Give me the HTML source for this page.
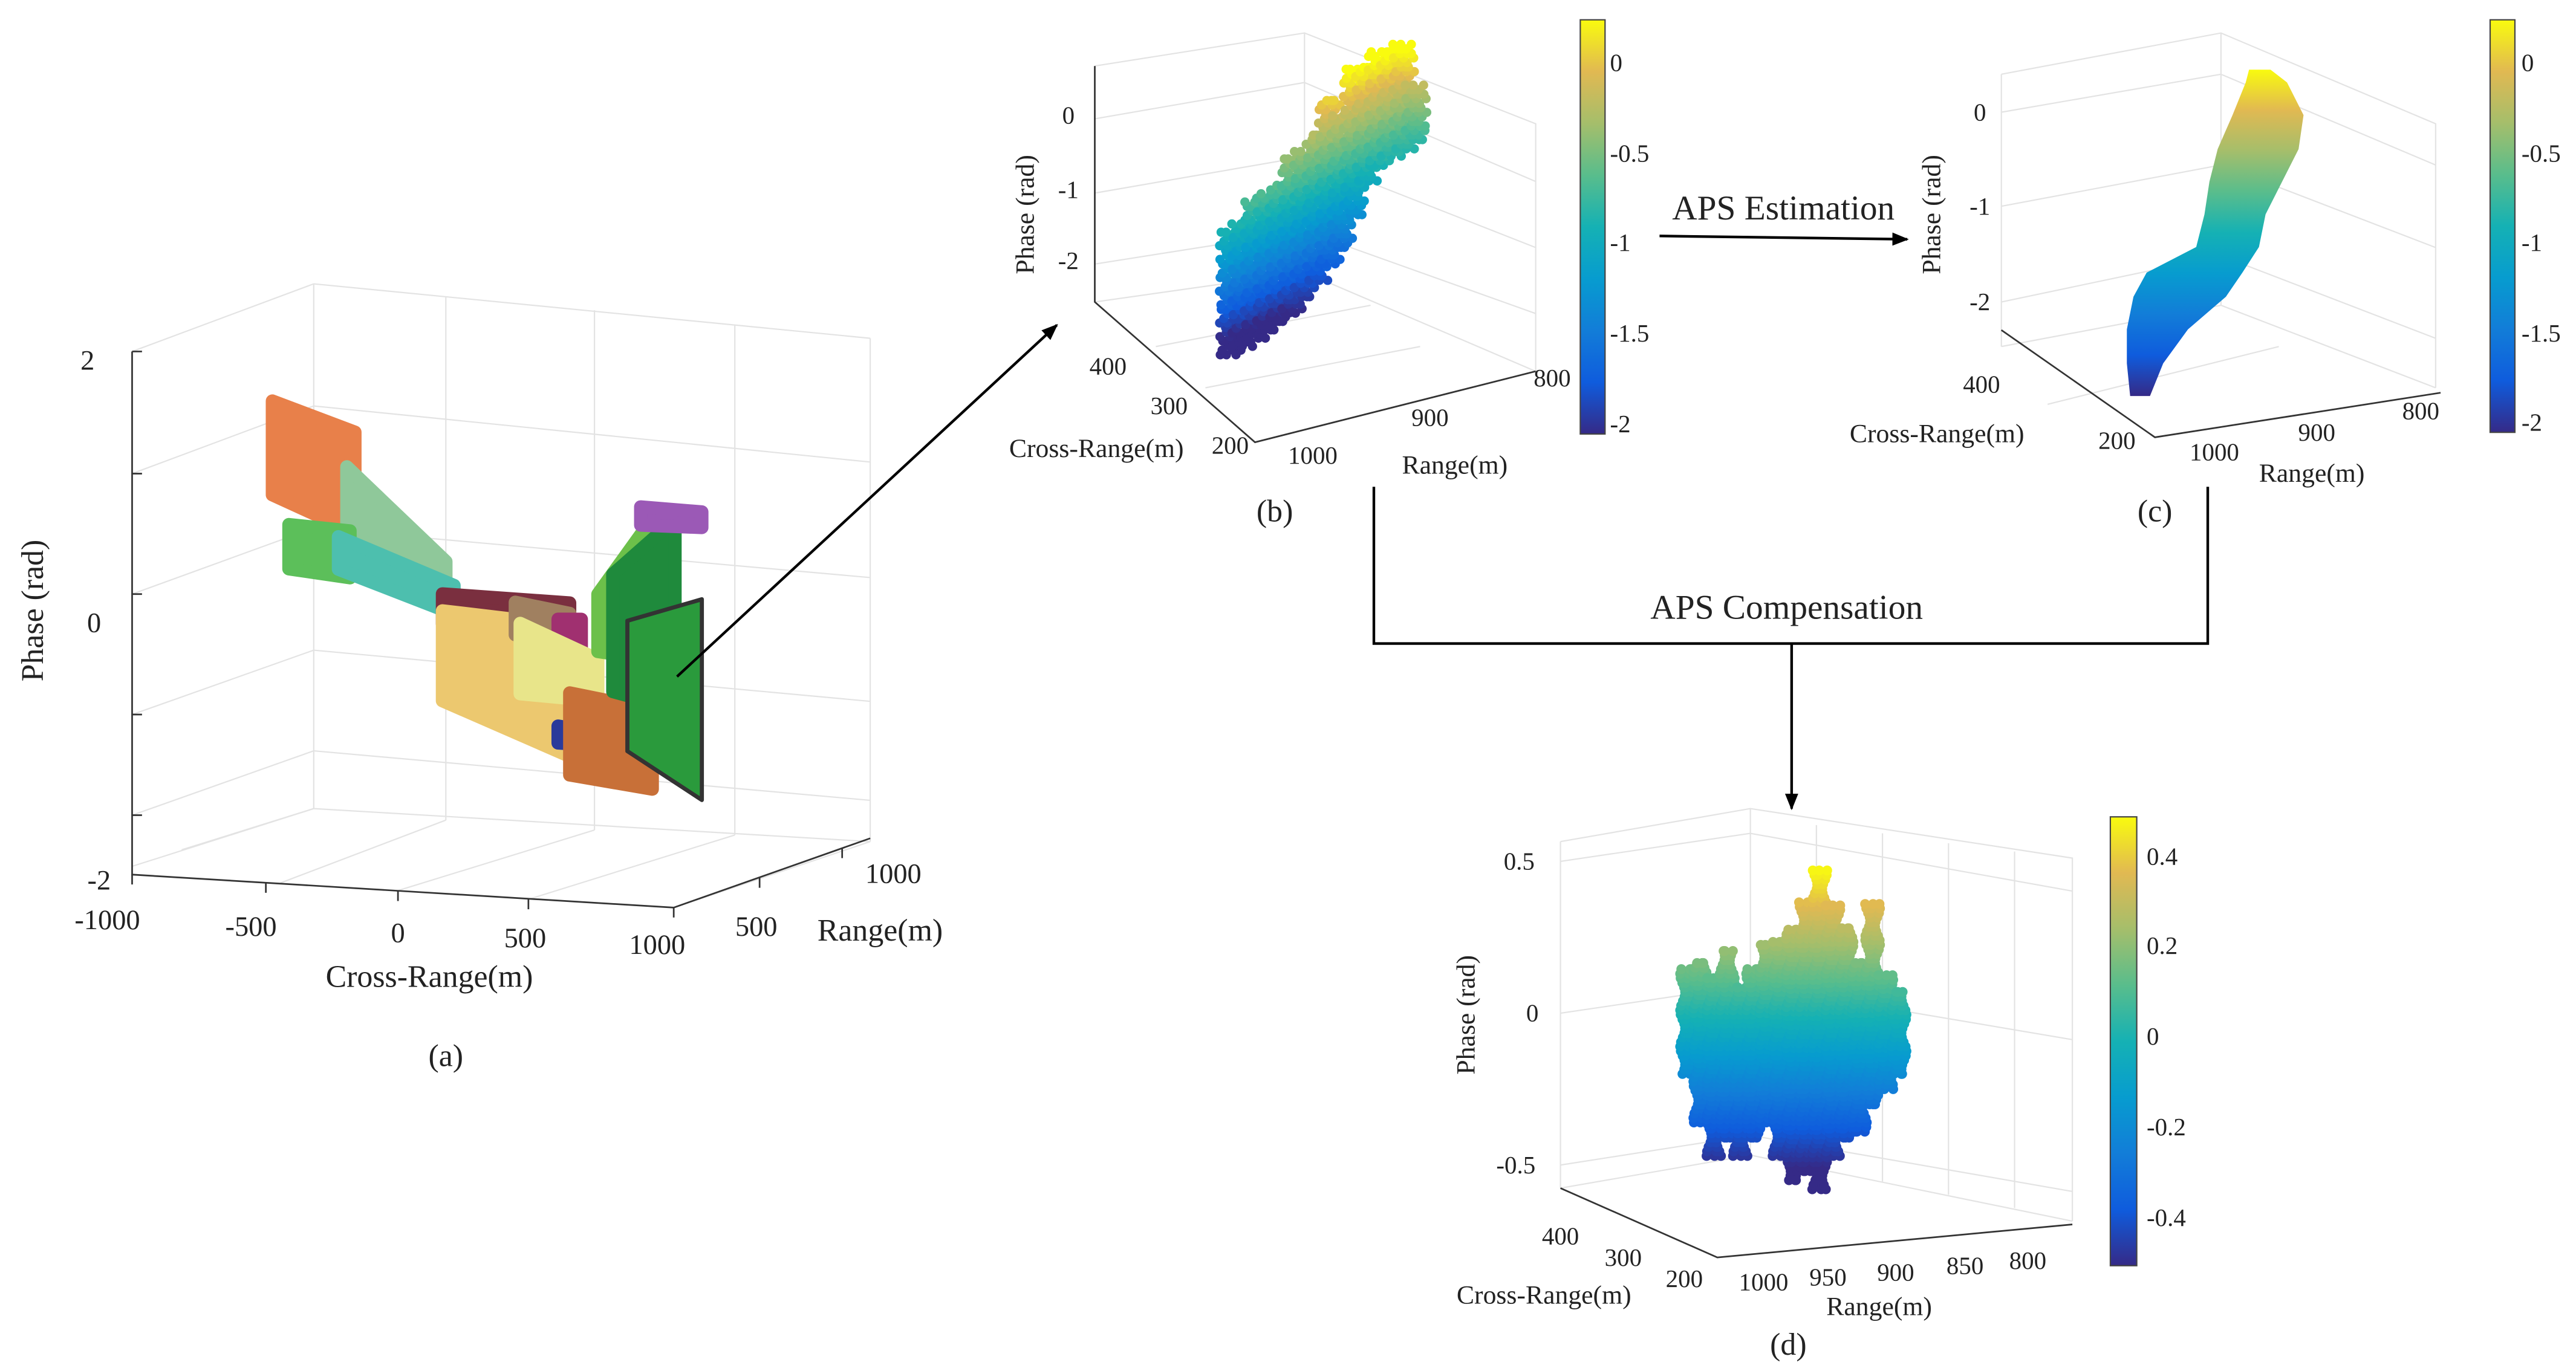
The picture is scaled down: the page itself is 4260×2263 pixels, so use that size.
<!DOCTYPE html>
<html><head><meta charset="utf-8"><style>
html,body{margin:0;padding:0;background:#fff}
svg{display:block}
text{font-family:"Liberation Serif",serif;fill:#222}
</style></head><body>
<svg id="fig" width="4260" height="2263" viewBox="0 0 1560 829" preserveAspectRatio="none" xmlns="http://www.w3.org/2000/svg">
<defs>
<linearGradient id="cbGrad" x1="0" y1="1" x2="0" y2="0">
<stop offset="0" stop-color="#352a87"/><stop offset="0.125" stop-color="#0f5cdd"/><stop offset="0.25" stop-color="#127dd8"/><stop offset="0.375" stop-color="#079ccf"/><stop offset="0.5" stop-color="#15b1b4"/><stop offset="0.625" stop-color="#59bd8c"/><stop offset="0.75" stop-color="#a5be6b"/><stop offset="0.875" stop-color="#e1b952"/><stop offset="1" stop-color="#f9fb0e"/>
</linearGradient>
<linearGradient id="stripGrad" gradientUnits="userSpaceOnUse" x1="0" y1="240" x2="0" y2="42">
<stop offset="0" stop-color="#352a87"/><stop offset="0.125" stop-color="#0f5cdd"/><stop offset="0.25" stop-color="#127dd8"/><stop offset="0.375" stop-color="#079ccf"/><stop offset="0.5" stop-color="#15b1b4"/><stop offset="0.625" stop-color="#59bd8c"/><stop offset="0.75" stop-color="#a5be6b"/><stop offset="0.875" stop-color="#e1b952"/><stop offset="1" stop-color="#f9fb0e"/>
</linearGradient>
<marker id="ah" markerWidth="10" markerHeight="8" refX="9" refY="4" orient="auto" markerUnits="userSpaceOnUse"><path d="M0,0 L10,4 L0,8 Z" fill="#000"/></marker>
</defs>

<!-- Panel a frame -->
<g id="panelA" stroke="#e3e3e3" stroke-width="0.8" fill="none">
<path d="M190,172 L190,490 M190,172 L527,205 M190,490 L527,510 M527,205 L527,510 M80,213 L190,172 M80,525 L190,490 M408,550 L527,510"/>
<path d="M270,180 L270,497 M360,188 L360,503 M445,197 L445,506 M190,246 L527,280 M190,320 L527,350 M190,394 L527,425 M190,455 L527,485 M80,287 L190,246 M80,360 L190,320 M80,433 L190,394 M80,494 L190,455 M110,515 L190,490 M170,535 L270,497 M240,540 L360,503 M320,545 L445,506"/>
</g>
<g stroke="#333" stroke-width="1" fill="none">
<path d="M80,213 L80,530 L408,550 L527,508"/>
<path d="M80,213 L86,213 M80,287 L86,287 M80,360 L86,360 M80,433 L86,433 M80,494 L86,494 M80,530 L80,536 M161,535 L161,541 M241,540 L241,546 M320,545 L320,551 M408,550 L408,556 M460,532 L460,538 M510,514 L510,520"/>
</g>
<g font-size="17">
<text x="53" y="224" text-anchor="middle">2</text><text x="57" y="383" text-anchor="middle">0</text><text x="60" y="539" text-anchor="middle">-2</text>
<text x="65" y="563" text-anchor="middle">-1000</text><text x="152" y="567" text-anchor="middle">-500</text><text x="241" y="571" text-anchor="middle">0</text><text x="318" y="574" text-anchor="middle">500</text><text x="398" y="578" text-anchor="middle">1000</text>
<text x="458" y="567" text-anchor="middle">500</text><text x="541" y="535" text-anchor="middle">1000</text>
</g>
<text x="260" y="598" font-size="19" text-anchor="middle">Cross-Range(m)</text>
<text x="533" y="570" font-size="19" text-anchor="middle">Range(m)</text>
<text transform="translate(26,370) rotate(-90)" font-size="19" text-anchor="middle">Phase (rad)</text>
<text x="270" y="646" font-size="19" text-anchor="middle">(a)</text>
<g id="clustersA"></g>

<!-- Panel b frame -->
<g stroke="#e3e3e3" stroke-width="0.8" fill="none">
<path d="M663,40 L663,183 M663,40 L790,20 L930,75 L930,225 M790,20 L790,165 L930,225 M663,183 L790,165 M663,72 L790,50 M663,117 L790,95 M663,160 L790,140 M790,50 L930,110 M790,95 L930,150 M790,140 L930,190 M700,210 L830,185 M730,235 L860,210"/>
</g>
<g stroke="#333" stroke-width="1" fill="none"><path d="M663,40 L663,183 L760,268 L930,225"/></g>
<g font-size="15">
<text x="647" y="75" text-anchor="middle">0</text><text x="647" y="120" text-anchor="middle">-1</text><text x="647" y="163" text-anchor="middle">-2</text>
<text x="671" y="227" text-anchor="middle">400</text><text x="708" y="251" text-anchor="middle">300</text><text x="745" y="275" text-anchor="middle">200</text>
<text x="795" y="281" text-anchor="middle">1000</text><text x="866" y="258" text-anchor="middle">900</text><text x="940" y="234" text-anchor="middle">800</text>
</g>
<text x="664" y="277" font-size="16" text-anchor="middle">Cross-Range(m)</text>
<text x="881" y="287" font-size="16" text-anchor="middle">Range(m)</text>
<text transform="translate(626,130) rotate(-90)" font-size="16" text-anchor="middle">Phase (rad)</text>
<text x="772" y="316" font-size="19" text-anchor="middle">(b)</text>
<g id="dotsB"></g>
<rect x="957" y="12" width="15" height="251" fill="url(#cbGrad)" stroke="#444" stroke-width="0.8"/>
<g font-size="15">
<text x="975" y="43">0</text><text x="975" y="98">-0.5</text><text x="975" y="152">-1</text><text x="975" y="207">-1.5</text><text x="975" y="262">-2</text></g>

<!-- Panel c -->
<g stroke="#e3e3e3" stroke-width="0.8" fill="none">
<path d="M1212,45 L1212,210 M1212,45 L1345,20 L1475,75 L1475,235 M1345,20 L1345,185 L1475,235 M1212,210 L1345,185 M1212,68 L1345,45 M1212,125 L1345,100 M1212,183 L1345,155 M1345,45 L1475,100 M1345,100 L1475,150 M1345,155 L1475,205 M1240,245 L1380,210"/>
</g>
<g stroke="#333" stroke-width="1" fill="none"><path d="M1212,200 L1305,265 L1478,238"/></g>
<g font-size="15">
<text x="1199" y="73" text-anchor="middle">0</text><text x="1199" y="130" text-anchor="middle">-1</text><text x="1199" y="188" text-anchor="middle">-2</text>
<text x="1200" y="238" text-anchor="middle">400</text><text x="1282" y="272" text-anchor="middle">200</text>
<text x="1341" y="279" text-anchor="middle">1000</text><text x="1403" y="267" text-anchor="middle">900</text><text x="1466" y="254" text-anchor="middle">800</text>
</g>
<text x="1173" y="268" font-size="16" text-anchor="middle">Cross-Range(m)</text>
<text x="1400" y="292" font-size="16" text-anchor="middle">Range(m)</text>
<text transform="translate(1175,130) rotate(-90)" font-size="16" text-anchor="middle">Phase (rad)</text>
<text x="1305" y="316" font-size="19" text-anchor="middle">(c)</text>
<g id="stripC"></g>
<rect x="1508" y="12" width="15" height="250" fill="url(#cbGrad)" stroke="#444" stroke-width="0.8"/>
<g font-size="15">
<text x="1527" y="43">0</text><text x="1527" y="98">-0.5</text><text x="1527" y="152">-1</text><text x="1527" y="207">-1.5</text><text x="1527" y="261">-2</text></g>

<!-- Arrows -->
<line x1="410" y1="410" x2="640" y2="197" stroke="#000" stroke-width="1.6" marker-end="url(#ah)"/>
<text x="1080" y="133" font-size="21" text-anchor="middle">APS Estimation</text>
<line x1="1005" y1="143" x2="1155" y2="145" stroke="#000" stroke-width="1.6" marker-end="url(#ah)"/>
<path d="M832,295 L832,390 L1337,390 L1337,295" stroke="#000" stroke-width="1.6" fill="none"/>
<text x="1082" y="375" font-size="21" text-anchor="middle">APS Compensation</text>
<line x1="1085" y1="390" x2="1085" y2="490" stroke="#000" stroke-width="1.6" marker-end="url(#ah)"/>

<!-- Panel d -->
<g stroke="#e3e3e3" stroke-width="0.8" fill="none">
<path d="M945,510 L945,720 M945,510 L1060,490 L1255,520 L1255,740 M1060,490 L1060,700 L1255,740 M945,720 L1060,700 M945,522 L1060,505 M945,614 L1060,597 M945,706 L1060,688 M1060,505 L1255,540 M1060,597 L1255,630 M1060,688 L1255,722 M1100,500 L1100,708 M1140,505 L1140,716 M1180,511 L1180,724 M1220,516 L1220,732"/>
</g>
<g stroke="#333" stroke-width="1" fill="none"><path d="M945,720 L1040,762 L1255,742"/></g>
<g font-size="15">
<text x="920" y="527" text-anchor="middle">0.5</text><text x="928" y="619" text-anchor="middle">0</text><text x="918" y="711" text-anchor="middle">-0.5</text>
<text x="945" y="754" text-anchor="middle">400</text><text x="983" y="767" text-anchor="middle">300</text><text x="1020" y="780" text-anchor="middle">200</text>
<text x="1068" y="782" text-anchor="middle">1000</text><text x="1107" y="779" text-anchor="middle">950</text><text x="1148" y="776" text-anchor="middle">900</text><text x="1190" y="772" text-anchor="middle">850</text><text x="1228" y="769" text-anchor="middle">800</text>
</g>
<text x="935" y="790" font-size="16" text-anchor="middle">Cross-Range(m)</text>
<text x="1138" y="797" font-size="16" text-anchor="middle">Range(m)</text>
<text transform="translate(893,615) rotate(-90)" font-size="16" text-anchor="middle">Phase (rad)</text>
<text x="1083" y="821" font-size="19" text-anchor="middle">(d)</text>
<g id="dotsD"></g>
<rect x="1278" y="495" width="16" height="272" fill="url(#cbGrad)" stroke="#444" stroke-width="0.8"/>
<g font-size="15">
<text x="1300" y="524">0.4</text><text x="1300" y="578">0.2</text><text x="1300" y="633">0</text><text x="1300" y="688">-0.2</text><text x="1300" y="743">-0.4</text></g>
</svg>
<script>
// ---------- data ----------
const clusterColors = ["#e8804a","#8fc89a","#5cbf5a","#4dbfae","#7a2f3f","#ecc86f","#a08060","#a03070","#e8e58a","#2a3a9a","#c87038","#6cc04a","#1f8a3c","#9b59b6","#2a9a3c"];
const clusterCR1 = [-787,-512,-726,-543,-159,-159,110,268,128,268,311,415,470,573,524];
const clusterCR2 = [-482,-146,-500,-116,311,341,311,354,415,463,616,634,700,799,799];
const clusterTopL = [1.47,1.0,0.53,0.46,0.07,-0.06,0.04,-0.07,-0.12,-0.89,-0.63,0.14,0.3,0.83,-0.05];
const clusterBotL = [0.75,0.53,0.19,0.21,-0.16,-0.75,-0.21,-0.32,-0.66,-1.02,-1.26,-0.3,-0.6,0.69,-1.05];
const clusterTopR = [1.27,0.32,0.51,0.14,0.06,-0.12,-0.02,-0.06,-0.36,-0.93,-0.72,0.8,0.75,0.82,0.15];
const clusterBotR = [0.5,0.0,0.15,-0.08,-0.19,-1.14,-0.28,-0.31,-0.68,-1.02,-1.33,-0.34,-0.7,0.7,-1.39];
const bCR = [200,215,230,245,260,275,290,305,320,335,350,365,380,395,410,425];
const bLo = [-2.24,-2.21,-2.18,-2.15,-2.12,-2.09,-1.97,-1.85,-1.73,-1.61,-1.31,-1.0,-0.89,-0.85,-0.83,-0.79];
const bHi = [-0.88,-0.84,-0.64,-0.60,-0.58,-0.36,-0.34,-0.21,0.09,-0.15,0.33,0.27,0.39,0.33,0.35,-0.16];
const cP = [-2.05,-1.82,-1.58,-1.35,-1.18,-1.0,-0.77,-0.54,-0.31,-0.07,0.16,0.25];
const cLeft = [200,196,196,204,220,280,290,296,306,324,340,344];
const cRight = [224,240,270,316,336,356,364,384,404,410,390,370];
const dRange = [1000,992,984,976,968,960,952,944,936,928,920,912,904,896,888,880,872];
const dLo = [-0.2,-0.36,-0.47,-0.41,-0.47,-0.41,-0.36,-0.47,-0.55,-0.52,-0.58,-0.47,-0.41,-0.39,-0.3,-0.25,-0.2];
const dHi = [0.16,0.18,0.13,0.21,0.10,0.16,0.24,0.24,0.29,0.37,0.48,0.37,0.29,0.18,0.37,0.13,0.08];

const NS="http://www.w3.org/2000/svg";
const par=[[53,42,135],[15,92,221],[18,125,216],[7,156,207],[21,177,180],[89,189,140],[165,190,107],[225,185,82],[249,251,14]];
function parula(t){t=Math.max(0,Math.min(1,t));const s=t*8,i=Math.min(7,Math.floor(s)),f=s-i;const a=par[i],b=par[i+1];
return "rgb("+a.map((v,k)=>Math.round(v+(b[k]-v)*f)).join(",")+")";}
function ax(cr){return 294+0.164*cr;}
function ay(cr,p){return 367+0.01*cr-79*p;}
const gA=document.getElementById("clustersA");
for(let i=0;i<clusterCR1.length;i++){
  const a=clusterCR1[i],b=clusterCR2[i];
  const pts=[[ax(a),ay(a,clusterTopL[i])],[ax(b),ay(b,clusterTopR[i])],[ax(b),ay(b,clusterBotR[i])],[ax(a),ay(a,clusterBotL[i])]];
  const pg=document.createElementNS(NS,"polygon");
  pg.setAttribute("points",pts.map(p=>p.join(",")).join(" "));
  pg.setAttribute("fill",clusterColors[i]);
  pg.setAttribute("stroke",i===14?"#333":clusterColors[i]);
  pg.setAttribute("stroke-width",i===14?"2.5":"8");
  pg.setAttribute("stroke-linejoin","round");
  
  
  gA.appendChild(pg);
}
function bx(cr){return 745+(cr-200)*0.5;}
function by(x,p){return 150-55*(p+2)+0.45*(860-x);}
function bc(p){return parula((p+2.05)/2.3);}
const gB=document.getElementById("dotsB");
for(let i=0;i<bCR.length;i++){
  const x=bx(bCR[i]);
  for(let p=bLo[i];p<=bHi[i];p+=0.05){
    for(let k=-1;k<=1;k++){
      const c=document.createElementNS(NS,"circle");
      c.setAttribute("cx",(x+k*4+2.5*Math.sin(p*37+k)).toFixed(1));
      c.setAttribute("cy",by(x,p).toFixed(1));
      c.setAttribute("r","2.8");
      c.setAttribute("fill",bc(p));
      
      
      gB.appendChild(c);
    }
  }
}
function cx(cr){return 1290+(cr-200)*0.5;}
function cy(p){return 240-86*(p+2.05);}
const gC=document.getElementById("stripC");
const pts=[];
for(let i=0;i<cP.length;i++)pts.push([cx(cLeft[i]),cy(cP[i])]);
for(let i=cP.length-1;i>=0;i--)pts.push([cx(cRight[i]),cy(cP[i])]);
const strip=document.createElementNS(NS,"polygon");
strip.setAttribute("points",pts.map(p=>p.join(",")).join(" "));
strip.setAttribute("fill","url(#stripGrad)");


gC.appendChild(strip);
function dx(r){return 1022+(1000-r)*1.0;}
function dy(p){return 614-184*p;}
const gD=document.getElementById("dotsD");
for(let i=0;i<dRange.length;i++){
  const x=dx(dRange[i]);
  for(let p=dLo[i];p<=dHi[i];p+=0.015){
    for(let k=-1;k<=1;k++){
      const c=document.createElementNS(NS,"circle");
      c.setAttribute("cx",(x+k*3+1.5*Math.sin(p*53+k*2)).toFixed(1));
      c.setAttribute("cy",dy(p).toFixed(1));
      c.setAttribute("r","3");
      c.setAttribute("fill",parula((p+0.5)/0.98));
      
      
      gD.appendChild(c);
    }
  }
}
</script>
</body></html>
